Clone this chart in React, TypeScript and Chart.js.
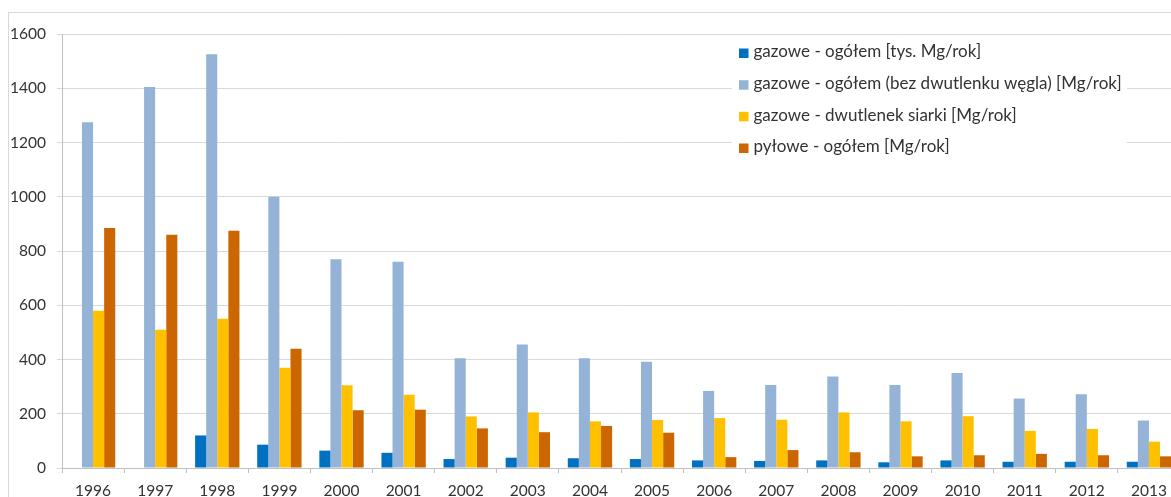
import React, { useEffect, useRef } from "react";
import { Chart, registerables } from "chart.js";

Chart.register(...registerables);

const years = ["1996", "1997", "1998", "1999", "2000", "2001", "2002", "2003", "2004", "2005", "2006", "2007", "2008", "2009", "2010", "2011", "2012", "2013"];
const gazoweOgolemTys = [null, null, 120, 86, 64, 56, 33, 38, 36, 33, 28, 26, 28, 21, 28, 23, 23, 23];
const gazoweBezCO2 = [1275, 1405, 1525, 1000, 770, 760, 405, 455, 405, 392, 284, 306, 337, 306, 350, 256, 272, 175];
const dwutlenekSiarki = [580, 510, 550, 370, 305, 270, 190, 205, 172, 177, 184, 178, 205, 172, 191, 137, 144, 97];
const pyloweOgolem = [885, 860, 875, 440, 213, 215, 146, 132, 155, 130, 40, 66, 58, 43, 47, 52, 47, 43];
const seriesLabels = [
  "gazowe - ogółem [tys. Mg/rok]",
  "gazowe - ogółem (bez dwutlenku węgla) [Mg/rok]",
  "gazowe - dwutlenek siarki [Mg/rok]",
  "pyłowe - ogółem [Mg/rok]",
];
const seriesColors = ["#0070C0", "#95B3D7", "#FFC000", "#CC6600"];
const yMin = 0;
const yMax = 1600;
const yStep = 200;

const FONT = "Lato, 'Liberation Sans', sans-serif";
const CW = 1200;
const CH = 520;

const framePlugin = {
  id: "frame",
  beforeDraw(chart: any) {
    const ctx = chart.ctx;
    ctx.save();
    ctx.fillStyle = "#ffffff";
    ctx.fillRect(0, 0, chart.width, chart.height);
    ctx.strokeStyle = "#D9D9D9";
    ctx.lineWidth = 1;
    ctx.strokeRect(8.5, 12.5, chart.width + 20, chart.height + 20);
    ctx.restore();
  },
};

const legendPlugin = {
  id: "insideLegend",
  afterDraw(chart: any) {
    const ctx = chart.ctx;
    ctx.save();
    ctx.fillStyle = "#ffffff";
    ctx.fillRect(732, 37, 395, 124);
    ctx.font = "17px " + FONT;
    ctx.textBaseline = "middle";
    ctx.textAlign = "left";
    const rows = [53, 84.7, 116.3, 148];
    chart.data.datasets.forEach((ds: any, i: number) => {
      const cy = rows[i];
      ctx.fillStyle = ds.backgroundColor;
      ctx.fillRect(739, cy - 4.5, 9.5, 9.5);
      ctx.fillStyle = "#333333";
      ctx.fillText(ds.label, 753.5, cy - 1);
    });
    ctx.restore();
  },
};

export default function App() {
  const ref = useRef<HTMLCanvasElement>(null);

  useEffect(() => {
    if (!ref.current) return;
    const data = [gazoweOgolemTys, gazoweBezCO2, dwutlenekSiarki, pyloweOgolem];
    const chart = new Chart(ref.current, {
      type: "bar",
      data: {
        labels: years,
        datasets: data.map((d, i) => ({
          label: seriesLabels[i],
          data: d,
          backgroundColor: seriesColors[i],
          borderWidth: 0,
          categoryPercentage: 0.714,
          barPercentage: 1.0,
        })),
      },
      options: {
        responsive: false,
        animation: false,
        devicePixelRatio: 1,
        layout: { padding: { top: 34, left: 0, right: CW - 1180, bottom: 0 } },
        plugins: {
          legend: { display: false },
          tooltip: { enabled: false },
        },
        scales: {
          x: {
            grid: {
              offset: true,
              drawOnChartArea: false,
              drawTicks: true,
              tickLength: 5,
              color: "#BFBFBF",
            },
            border: { display: true, color: "#BFBFBF" },
            ticks: {
              color: "#333333",
              font: { family: FONT, size: 15.5 },
              padding: 9,
              maxRotation: 0,
              autoSkip: false,
            },
            afterFit: (s: any) => {
              s.height = CH - 468;
            },
          },
          y: {
            min: yMin,
            max: yMax,
            grid: {
              color: "#D9D9D9",
              drawTicks: true,
              tickLength: 5,
            },
            border: { display: true, color: "#BFBFBF" },
            ticks: {
              stepSize: yStep,
              color: "#333333",
              font: { family: FONT, size: 15.5 },
              padding: 11,
              callback: (v: any) => String(v),
            },
            afterFit: (s: any) => {
              s.width = 62;
            },
          },
        },
      },
      plugins: [framePlugin, legendPlugin],
    });
    return () => chart.destroy();
  }, []);

  return (
    <div
      style={{
        position: "fixed",
        left: 0,
        top: 0,
        width: 1171,
        height: 497,
        overflow: "hidden",
        background: "#ffffff",
      }}
    >
      <canvas ref={ref} width={CW} height={CH} style={{ display: "block" }} />
    </div>
  );
}
